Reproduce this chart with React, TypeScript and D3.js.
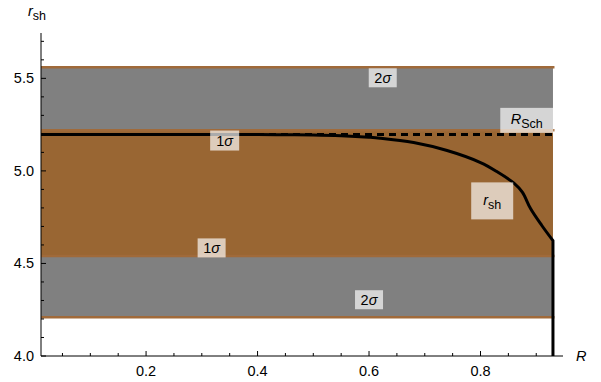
import React from 'react'
import * as d3 from 'd3'

// shadow radius r_sh vs R
const radii = [0.0115, 0.1, 0.2, 0.3, 0.4, 0.45, 0.5, 0.55, 0.6, 0.62, 0.68, 0.74, 0.8, 0.83, 0.86, 0.875, 0.89, 0.91, 0.93]
const rsh = [5.196, 5.196, 5.196, 5.196, 5.196, 5.195, 5.194, 5.19, 5.182, 5.177, 5.153, 5.11, 5.045, 4.995, 4.934, 4.885, 4.795, 4.705, 4.623]
const rEnd = 0.93
const rSch = 3 * Math.sqrt(3)

// EHT bounds
const sigma1 = [4.54, 5.22]
const sigma2 = [4.21, 5.56]

const xMajor = [0.2, 0.4, 0.6, 0.8]
const xMinor = [0.05, 0.1, 0.15, 0.25, 0.3, 0.35, 0.45, 0.5, 0.55, 0.65, 0.7, 0.75, 0.85, 0.9]
const yMajor = [4.0, 4.5, 5.0, 5.5]
const yMinor = [4.1, 4.2, 4.3, 4.4, 4.6, 4.7, 4.8, 4.9, 5.1, 5.2, 5.3, 5.4, 5.6, 5.7]

const W = 601
const H = 382
const FONT = '"Liberation Sans", Arial, sans-serif'
const brown = '#996633'
const brownLine = '#a06a3a'

const x = d3.scaleLinear().domain([0.0115, 0.948]).range([41, 563])
const y = d3.scaleLinear().domain([4.0, 5.745]).range([356, 33])

type Lab = { R: number; r: number; w: number; h: number; kind: string; text: string }
const labels: Lab[] = [
  { R: 0.6246, r: 5.503, w: 28, h: 19, kind: 'sigma', text: '2' },
  { R: 0.341, r: 5.164, w: 29, h: 20, kind: 'sigma', text: '1' },
  { R: 0.3176, r: 4.584, w: 28, h: 19, kind: 'sigma', text: '1' },
  { R: 0.6, r: 4.304, w: 28, h: 19, kind: 'sigma', text: '2' },
  { R: 0.883, r: 5.273, w: 53, h: 25, kind: 'sub', text: 'R|Sch' },
  { R: 0.821, r: 4.838, w: 42, h: 37, kind: 'sub', text: 'r|sh' },
]

function Label({ d }: { d: Lab }) {
  const cx = x(d.R)
  const cy = y(d.r)
  let content
  if (d.kind === 'sigma') {
    content = (
      <text x={cx} y={cy + 5} textAnchor="middle" fontSize={14.5} fontFamily={FONT}>
        {d.text}<tspan fontStyle="italic">σ</tspan>
      </text>
    )
  } else {
    const [a, b] = d.text.split('|')
    content = (
      <text x={cx} y={cy + 4} textAnchor="middle" fontSize={14.5} fontFamily={FONT}>
        <tspan fontStyle="italic">{a}</tspan>
        <tspan dy={4} fontSize={12.5}>{b}</tspan>
      </text>
    )
  }
  return (
    <g>
      <rect x={cx - d.w / 2} y={cy - d.h / 2} width={d.w} height={d.h} fill="white" fillOpacity={0.67} />
      {content}
    </g>
  )
}

export default function App() {
  const pts: [number, number][] = radii.map((R, i) => [x(R), y(rsh[i])])
  const line = d3.line().curve(d3.curveCatmullRom.alpha(0.5))
  const curve = line(pts) + 'L' + x(rEnd) + ',' + y(4.0)
  const x0 = x(0.0115)
  const x1 = x(rEnd)

  return (
    <svg width={W} height={H} style={{ position: 'absolute', left: 0, top: 0 }}>
      <rect width={W} height={H} fill="white" />
      {/* bands */}
      <rect x={x0} y={y(sigma2[1])} width={x1 - x0} height={y(sigma2[0]) - y(sigma2[1])} fill="#808080" />
      <rect x={x0} y={y(sigma1[1])} width={x1 - x0} height={y(sigma1[0]) - y(sigma1[1])} fill={brown} />
      {[...sigma1, ...sigma2].map((v, i) => (
        <line key={i} x1={x0} x2={x1 + 1.5} y1={y(v)} y2={y(v)} stroke={brownLine} strokeWidth={2.5} />
      ))}
      {/* R_Sch */}
      <line x1={x0} x2={x1} y1={y(rSch)} y2={y(rSch)} stroke="black" strokeWidth={3} strokeDasharray="7,5" />
      {/* axes */}
      <line x1={41} x2={563} y1={y(4.0)} y2={y(4.0)} stroke="black" strokeWidth={1} />
      <line x1={41} x2={41} y1={y(4.0)} y2={33} stroke="black" strokeWidth={1} />
      {xMajor.map(v => (
        <g key={'xM' + v}>
          <line x1={x(v)} x2={x(v)} y1={y(4.0)} y2={y(4.0) - 5} stroke="black" />
          <text x={x(v)} y={376} textAnchor="middle" fontSize={14.5} fontFamily={FONT}>{v.toFixed(1)}</text>
        </g>
      ))}
      {xMinor.map(v => (
        <line key={'xm' + v} x1={x(v)} x2={x(v)} y1={y(4.0)} y2={y(4.0) - 3} stroke="black" />
      ))}
      {yMajor.map(v => (
        <g key={'yM' + v}>
          <line x1={41} x2={46} y1={y(v)} y2={y(v)} stroke="black" />
          <text x={34} y={y(v) + 5} textAnchor="end" fontSize={14.5} fontFamily={FONT}>{v.toFixed(1)}</text>
        </g>
      ))}
      {yMinor.map(v => (
        <line key={'ym' + v} x1={41} x2={44} y1={y(v)} y2={y(v)} stroke="black" />
      ))}
      {/* curve */}
      <path d={curve} fill="none" stroke="black" strokeWidth={3} strokeLinejoin="miter" />
      {labels.map((d, i) => <Label key={i} d={d} />)}
      {/* axis titles */}
      <text x={28} y={16} fontSize={14.5} fontFamily={FONT}>
        <tspan fontStyle="italic">r</tspan>
        <tspan dy={4} fontSize={12.5}>sh</tspan>
      </text>
      <text x={576} y={361} fontSize={14.5} fontFamily={FONT} fontStyle="italic">R</text>
    </svg>
  )
}
